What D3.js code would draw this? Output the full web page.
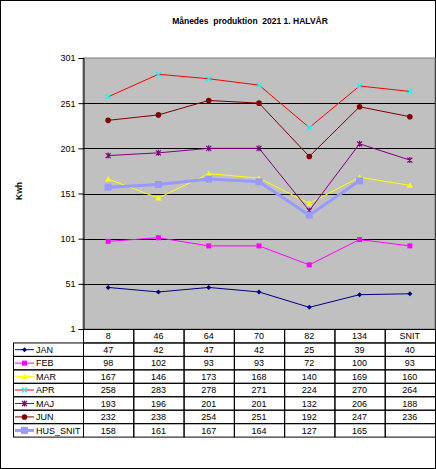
<!DOCTYPE html>
<html>
<head>
<meta charset="utf-8">
<script src="https://cdn.jsdelivr.net/npm/d3@7"></script>
<style>
  body { margin: 0; background: #fff; }
  svg { display: block; font-family: Arial, "Liberation Sans", sans-serif; }
</style>
</head>
<body>
<svg width="436" height="469"></svg>
<script>
// categories (columns of the data table)
var categories = ['8', '46', '64', '70', '82', '134', 'SNIT'];
var yTicks = [1, 51, 101, 151, 201, 251, 301];

// monthly values, one array per series
var jan = [47, 42, 47, 42, 25, 39, 40];
var feb = [98, 102, 93, 93, 72, 100, 93];
var mar = [167, 146, 173, 168, 140, 169, 160];
var apr = [258, 283, 278, 271, 224, 270, 264];
var maj = [193, 196, 201, 201, 132, 206, 188];
var jun = [232, 238, 254, 251, 192, 247, 236];
var husSnit = [158, 161, 167, 164, 127, 165, null];

var seriesNames = ['JAN', 'FEB', 'MAR', 'APR', 'MAJ', 'JUN', 'HUS_SNIT'];
var seriesValues = [jan, feb, mar, apr, maj, jun, husSnit];

// look of each series: line colour, marker colour, marker type, line width
var styles = {
    JAN: {line: '#000080', fill: '#000080', sym: 'diamond', w: 1},
    FEB: {line: '#FF00FF', fill: '#FF00FF', sym: 'square', w: 1},
    MAR: {line: '#FFFF00', fill: '#FFFF00', sym: 'triangle', w: 1},
    APR: {line: '#FF0000', fill: '#00FFFF', sym: 'x', w: 1},
    MAJ: {line: '#800080', fill: '#800080', sym: 'star', w: 1},
    JUN: {line: '#800000', fill: '#800000', sym: 'circle', w: 1},
    HUS_SNIT: {line: '#9999FF', fill: '#9999FF', sym: 'bigsquare', w: 3}
};

var svg = d3.select('svg'),
    width = +svg.attr('width'),
    height = +svg.attr('height');

var plotLeft = 83, plotRight = 435, plotTop = 58, plotBottom = 329;
var rowH = 13.45, legLeft = 13;

var x = d3.scaleBand().domain(categories).range([plotLeft, plotRight]);
var y = d3.scaleLinear().domain([1, 301]).range([plotBottom, plotTop]);

// outer border
svg.append('rect')
    .attr('x', 0.5).attr('y', 0.5)
    .attr('width', width - 1).attr('height', height - 1)
    .attr('fill', '#fff').attr('stroke', '#000');

// title
svg.append('text')
    .attr('x', 250).attr('y', 24)
    .attr('text-anchor', 'middle')
    .attr('font-size', 8.5).attr('font-weight', 'bold')
    .style('white-space', 'pre')
    .text('Månedes  produktion  2021 1. HALVÅR');

// y axis title
svg.append('text')
    .attr('transform', 'translate(22,191) rotate(-90)')
    .attr('text-anchor', 'middle')
    .attr('font-size', 8.5).attr('font-weight', 'bold')
    .text('Kwh');

// plot background
svg.append('rect')
    .attr('x', plotLeft).attr('y', plotTop)
    .attr('width', plotRight - plotLeft).attr('height', plotBottom - plotTop)
    .attr('fill', '#C0C0C0').attr('stroke', '#808080');

// gridlines
svg.append('g')
    .selectAll('line')
    .data(yTicks.filter(function (t) { return t > 1 && t < 301; }))
    .enter().append('line')
    .attr('x1', plotLeft).attr('x2', plotRight)
    .attr('y1', function (d) { return Math.round(y(d)) + 0.5; })
    .attr('y2', function (d) { return Math.round(y(d)) + 0.5; })
    .attr('stroke', '#000');

// y axis
var yAxis = d3.axisLeft(y).tickValues(yTicks).tickSize(5).tickPadding(3);
var gy = svg.append('g')
    .attr('transform', 'translate(' + (plotLeft + 0.5) + ',0)')
    .call(yAxis);
gy.select('.domain').attr('stroke', '#000');
gy.selectAll('text').attr('font-size', 9).attr('fill', '#000').attr('font-family', 'Arial, "Liberation Sans", sans-serif');

// marker drawing
function marker(g, type, color) {
    if (type === 'diamond') {
        g.append('path').attr('d', 'M0,-2.5L2.5,0L0,2.5L-2.5,0Z').attr('fill', color);
    } else if (type === 'square') {
        g.append('rect').attr('x', -2.5).attr('y', -2.5).attr('width', 5).attr('height', 5).attr('fill', color);
    } else if (type === 'bigsquare') {
        g.append('rect').attr('x', -3.5).attr('y', -3.5).attr('width', 7).attr('height', 7).attr('fill', color);
    } else if (type === 'triangle') {
        g.append('path').attr('d', 'M0,-3L3,2.5L-3,2.5Z').attr('fill', color);
    } else if (type === 'x') {
        g.append('path').attr('d', 'M-2.5,-2.5L2.5,2.5M2.5,-2.5L-2.5,2.5')
            .attr('stroke', color).attr('stroke-width', 1.2).attr('fill', 'none');
    } else if (type === 'star') {
        g.append('path').attr('d', 'M-2.5,-2.5L2.5,2.5M2.5,-2.5L-2.5,2.5M0,-3L0,3')
            .attr('stroke', color).attr('stroke-width', 1.2).attr('fill', 'none');
    } else if (type === 'circle') {
        g.append('circle').attr('r', 2.8).attr('fill', color);
    }
}

// series lines + markers
var line = d3.line()
    .defined(function (d) { return d != null; })
    .x(function (d, i) { return x(categories[i]) + x.bandwidth() / 2; })
    .y(function (d) { return y(d); });

var seriesG = svg.append('g');
seriesNames.forEach(function (name, si) {
    var st = styles[name];
    var vals = seriesValues[si];
    seriesG.append('path')
        .datum(vals)
        .attr('d', line)
        .attr('fill', 'none')
        .attr('stroke', st.line)
        .attr('stroke-width', st.w);
    vals.forEach(function (v, i) {
        if (v == null) return;
        var g = seriesG.append('g')
            .attr('transform', 'translate(' + (x(categories[i]) + x.bandwidth() / 2) + ',' + y(v) + ')');
        marker(g, st.sym, st.fill);
    });
});

// data table
var table = svg.append('g');
var tableBottom = plotBottom + rowH * (seriesNames.length + 1);

// header row with category labels
categories.forEach(function (c) {
    table.append('rect')
        .attr('x', x(c) + 0.5).attr('y', plotBottom + 0.5)
        .attr('width', x.bandwidth()).attr('height', rowH)
        .attr('fill', 'none').attr('stroke', '#000');
    table.append('text')
        .attr('x', x(c) + x.bandwidth() / 2).attr('y', plotBottom + rowH - 3)
        .attr('text-anchor', 'middle').attr('font-size', 9)
        .text(c);
});

seriesNames.forEach(function (name, si) {
    var st = styles[name];
    var ry = plotBottom + rowH * (si + 1);
    // legend cell
    table.append('rect')
        .attr('x', legLeft + 0.5).attr('y', ry + 0.5)
        .attr('width', plotLeft - legLeft).attr('height', rowH)
        .attr('fill', 'none').attr('stroke', '#000');
    table.append('line')
        .attr('x1', 15).attr('x2', 34)
        .attr('y1', ry + rowH / 2 + 0.5).attr('y2', ry + rowH / 2 + 0.5)
        .attr('stroke', st.line).attr('stroke-width', st.w);
    marker(table.append('g').attr('transform', 'translate(24.5,' + (ry + rowH / 2 + 0.5) + ')'), st.sym, st.fill);
    table.append('text')
        .attr('x', 36).attr('y', ry + rowH - 3)
        .attr('font-size', 9)
        .text(name);
    // value cells
    categories.forEach(function (c, i) {
        table.append('rect')
            .attr('x', x(c) + 0.5).attr('y', ry + 0.5)
            .attr('width', x.bandwidth()).attr('height', rowH)
            .attr('fill', 'none').attr('stroke', '#000');
        var v = seriesValues[si][i];
        if (v != null) {
            table.append('text')
                .attr('x', x(c) + x.bandwidth() / 2).attr('y', ry + rowH - 3)
                .attr('text-anchor', 'middle').attr('font-size', 9)
                .text(v);
        }
    });
});
</script>
</body>
</html>
